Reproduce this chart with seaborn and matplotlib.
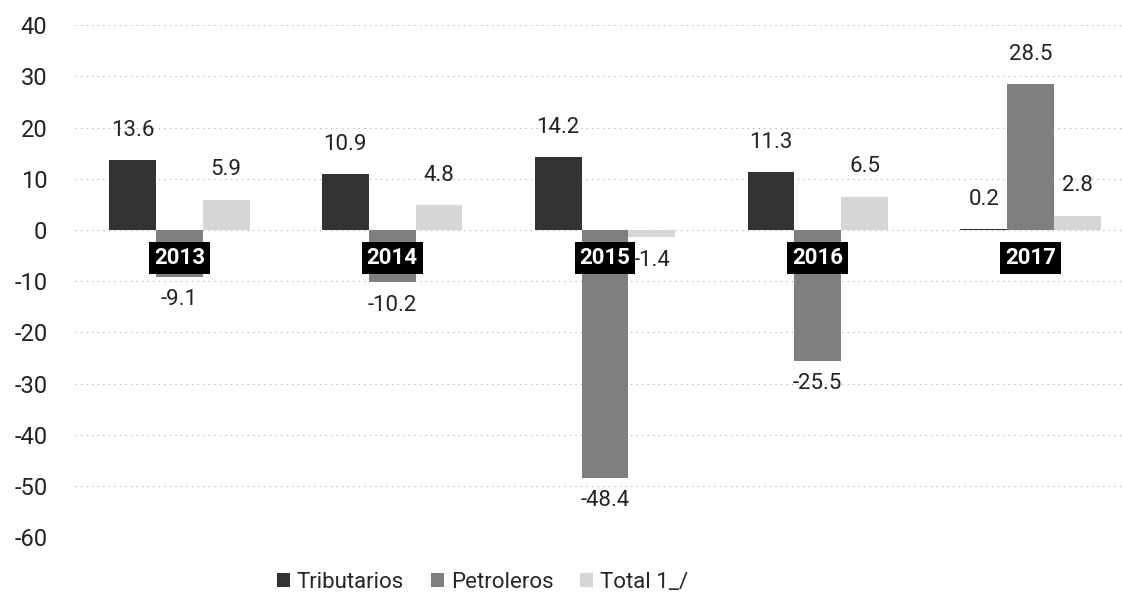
import matplotlib
matplotlib.use("Agg")
import matplotlib.pyplot as plt
import pandas as pd
import seaborn as sns

# ------------------------------
# DATA
# ------------------------------
years = ["2013", "2014", "2015", "2016", "2017"]
series = ["Tributarios", "Petroleros", "Total 1_/"]
tributarios = [13.6, 10.9, 14.2, 11.3, 0.2]
petroleros = [-9.1, -10.2, -48.4, -25.5, 28.5]
total = [5.9, 4.8, -1.4, 6.5, 2.8]
y_ticks = [40, 30, 20, 10, 0, -10, -20, -30, -40, -50, -60]

colors = {"Tributarios": "#333333", "Petroleros": "#7f7f7f", "Total 1_/": "#d6d6d6"}

df = pd.DataFrame({
    "year": years * 3,
    "serie": [s for s in series for _ in years],
    "value": tributarios + petroleros + total,
})

# ------------------------------
# PLOT
# ------------------------------
sns.set_theme(style="white")
plt.rcParams["font.family"] = ["Roboto", "DejaVu Sans"]

fig = plt.figure(figsize=(11.22, 6.01), dpi=100)
ax = fig.add_axes([0.067, 0.106, 0.933, 0.852])

sns.barplot(data=df, x="year", y="value", hue="serie", order=years,
            hue_order=series, palette=colors, width=0.66, gap=0,
            edgecolor="none", ax=ax, legend=False)

ax.set_ylim(-60, 40)
ax.set_xlim(-0.49, 4.43)
ax.set_yticks(y_ticks)
ax.set_yticklabels([str(t) for t in y_ticks], fontsize=17, color="#222222")
ax.tick_params(axis="y", length=0, pad=20)
ax.set_xticks([])
ax.set_xlabel("")
ax.set_ylabel("")
for sp in ax.spines.values():
    sp.set_visible(False)
ax.yaxis.grid(True, linestyle=(0, (1, 4)), color="#a8a8a8", linewidth=0.8)
ax.set_axisbelow(True)

# value labels
for cont in ax.containers:
    for bar in cont:
        v = bar.get_height()
        xc = bar.get_x() + bar.get_width() / 2
        if v >= 0:
            ax.annotate(f"{v:.1f}", (xc, v), xytext=(0, 14), textcoords="offset points",
                        ha="center", va="bottom", fontsize=16, color="#222222")
        else:
            ax.annotate(f"{v:.1f}", (xc, v), xytext=(0, -9), textcoords="offset points",
                        ha="center", va="top", fontsize=16, color="#222222")

# year tags under the petroleros bars
for bar, yr in zip(ax.containers[1], years):
    xc = bar.get_x() + bar.get_width() / 2
    ax.text(xc, -5.5, yr, ha="center", va="center", fontsize=16, color="white",
            fontweight="bold",
            bbox=dict(boxstyle="square,pad=0.22", facecolor="black", edgecolor="none"))

# legend
handles = [plt.Rectangle((0, 0), 1, 1, facecolor=colors[s], edgecolor="none") for s in series]
fig.legend(handles, series, loc="lower center", bbox_to_anchor=(0.43, -0.02), ncol=3,
           frameon=False, fontsize=16, handlelength=0.6, handleheight=0.6,
           handletextpad=0.3, columnspacing=1.2)

fig.savefig("out.png", dpi=100)
